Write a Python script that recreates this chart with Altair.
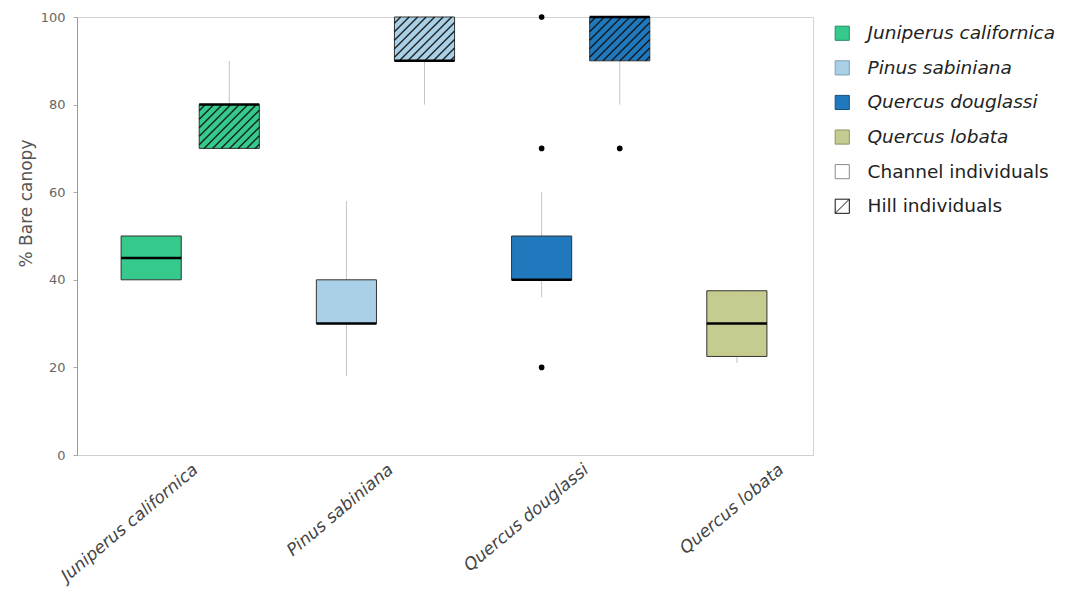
import json

import altair as alt
import pandas as pd

# ---- data -------------------------------------------------------------
species = ["Juniperus californica", "Pinus sabiniana", "Quercus douglassi", "Quercus lobata"]
species_colors = ["#35c98b", "#a9d0e6", "#2078bd", "#c6cb8f"]
species_edges = ["#2a8a62", "#7f9fb0", "#174f7a", "#8f9462"]
site_legend = ["Channel individuals", "Hill individuals"]

box_species = [
    "Juniperus californica", "Juniperus californica",
    "Pinus sabiniana", "Pinus sabiniana",
    "Quercus douglassi", "Quercus douglassi",
    "Quercus lobata",
]
box_site = ["Channel", "Hill", "Channel", "Hill", "Channel", "Hill", "Channel"]
q1 = [40, 70, 30, 90, 40, 90, 22.5]
median = [45, 80, 30, 90, 40, 100, 30]
q3 = [50, 80, 40, 100, 50, 100, 37.5]
whisker_lo = [40, 70, 18, 80, 36, 80, 21]
whisker_hi = [50, 90, 58, 100, 60, 100, 37.5]

outlier_species = ["Quercus douglassi", "Quercus douglassi", "Quercus douglassi", "Quercus douglassi"]
outlier_site = ["Channel", "Channel", "Channel", "Hill"]
outlier_value = [100, 70, 20, 70]

# ---- layout -----------------------------------------------------------
W, H = 736, 438
X_MIN, X_MAX = -0.58, 3.19
SITE_OFFSET = {"Channel": -0.2, "Hill": 0.2}
HALF_WIDTH = 0.154
HATCH_STEP = 8.5  # px between hatch lines, measured horizontally
FONT = "DejaVu Sans"

boxes = pd.DataFrame({
    "key": box_species, "site": box_site,
    "q1": q1, "median": median, "q3": q3,
    "lo": whisker_lo, "hi": whisker_hi,
})
boxes["x"] = [species.index(s) + SITE_OFFSET[t] for s, t in zip(box_species, box_site)]
boxes["xlo"] = boxes["x"] - HALF_WIDTH
boxes["xhi"] = boxes["x"] + HALF_WIDTH

outliers = pd.DataFrame({"key": outlier_species, "site": outlier_site, "value": outlier_value})
outliers["x"] = [species.index(s) + SITE_OFFSET[t] for s, t in zip(outlier_species, outlier_site)]

# diagonal hatching of the hill boxes, clipped to each box
sx = W / (X_MAX - X_MIN)
sy = H / 100.0
hatch_rows = []
for r in boxes[boxes["site"] == "Hill"].itertuples():
    u0, u1 = r.xlo * sx, r.xhi * sx
    v0, v1 = r.q1 * sy, r.q3 * sy
    c = v0 - u1 + HATCH_STEP / 2
    while c < v1 - u0:
        a = max(u0, v0 - c)
        b = min(u1, v1 - c)
        if b > a:
            hatch_rows.append({"hx": a / sx, "hx2": b / sx, "hy": (a + c) / sy, "hy2": (b + c) / sy})
        c += HATCH_STEP
hatch = pd.DataFrame(hatch_rows)

legend_keys = species + site_legend
legend_df = pd.DataFrame({"key": legend_keys, "x": [0] * len(legend_keys), "value": [50] * len(legend_keys)})

# ---- scales / axes ----------------------------------------------------
x_scale = alt.Scale(domain=[X_MIN, X_MAX], nice=False, zero=False)
y_scale = alt.Scale(domain=[0, 100], nice=False)

x_axis = alt.Axis(
    values=[0, 1, 2, 3],
    labelExpr=json.dumps(species) + "[datum.value]",
    title=None, grid=False, ticks=False,
    labelAngle=320, labelAlign="right", labelBaseline="top",
    labelFontStyle="italic", labelFontSize=17, labelColor="#444",
    labelPadding=6, labelFlush=False, labelOverlap=False, labelBound=False,
    domainColor="#cfcfcf",
)
y_axis = alt.Axis(
    values=[0, 20, 40, 60, 80, 100], grid=False,
    title="% Bare canopy", titleFontSize=17, titleColor="#555", titleFontWeight="normal",
    titleX=-51, titleY=186, titleBaseline="middle",
    labelFontSize=13, labelColor="#666", labelPadding=8,
    tickSize=4, tickColor="#aaa", domainColor="#999",
)

legend = alt.Legend(
    title=None, orient="none", legendX=756, legendY=7,
    labelFont=FONT, labelFontSize=18.5, labelColor="#222", labelOffset=16, labelLimit=400,
    labelFontStyle=alt.ExprRef(
        expr="indexof(" + json.dumps(site_legend) + ", datum.label) >= 0 ? 'normal' : 'italic'"
    ),
    symbolSize=200, symbolStrokeWidth=1, symbolOpacity=1,
    rowPadding=15.6,
)
color_scale = alt.Scale(domain=legend_keys, range=species_colors + ["white", "white"])
stroke_scale = alt.Scale(domain=legend_keys, range=species_edges + ["#8a8a8a", "#111"])
shape_scale = alt.Scale(domain=legend_keys, range=["square"] * 5 + ["M-1,-1H1V1H-1Z M-1,1L1,-1"])

# ---- layers -----------------------------------------------------------
# invisible points that carry the combined species / site legend
legend_layer = alt.Chart(legend_df).mark_point(filled=True, opacity=0, strokeWidth=1).encode(
    x=alt.X("x:Q", scale=x_scale, axis=x_axis),
    y=alt.Y("value:Q", scale=y_scale, axis=y_axis),
    color=alt.Color("key:N", scale=color_scale, legend=legend),
    stroke=alt.Stroke("key:N", scale=stroke_scale, legend=legend),
    shape=alt.Shape("key:N", scale=shape_scale, legend=legend),
)

whiskers = alt.Chart(boxes).mark_rule(color="#c4c4c4", strokeWidth=1).encode(
    x="x:Q", y="lo:Q", y2="hi:Q",
)

box = alt.Chart(boxes).mark_rect(stroke="#333", strokeWidth=1).encode(
    x="xlo:Q", x2="xhi:Q", y="q1:Q", y2="q3:Q",
    color=alt.Color("key:N", scale=color_scale, legend=None),
)

hatch_lines = alt.Chart(hatch).mark_rule(color="#111", strokeWidth=1.4, opacity=0.9).encode(
    x="hx:Q", x2="hx2:Q", y="hy:Q", y2="hy2:Q",
)

medians = alt.Chart(boxes).mark_rule(color="#000", strokeWidth=2.5).encode(
    x="xlo:Q", x2="xhi:Q", y="median:Q",
)

outlier_pts = alt.Chart(outliers).mark_point(filled=True, color="#000", size=32, opacity=1).encode(
    x="x:Q", y="value:Q",
)

chart = alt.layer(
    legend_layer, whiskers, box, hatch_lines, medians, outlier_pts
).properties(
    width=W, height=H,
    autosize=alt.AutoSizeParams(type="none"),
    padding={"left": 77, "top": 17, "right": 259, "bottom": 152},
).configure(
    font=FONT,
).configure_view(
    stroke="#d4d4d4", strokeWidth=1,
)

chart.save("out.html", embed_options={"renderer": "svg", "actions": False})
